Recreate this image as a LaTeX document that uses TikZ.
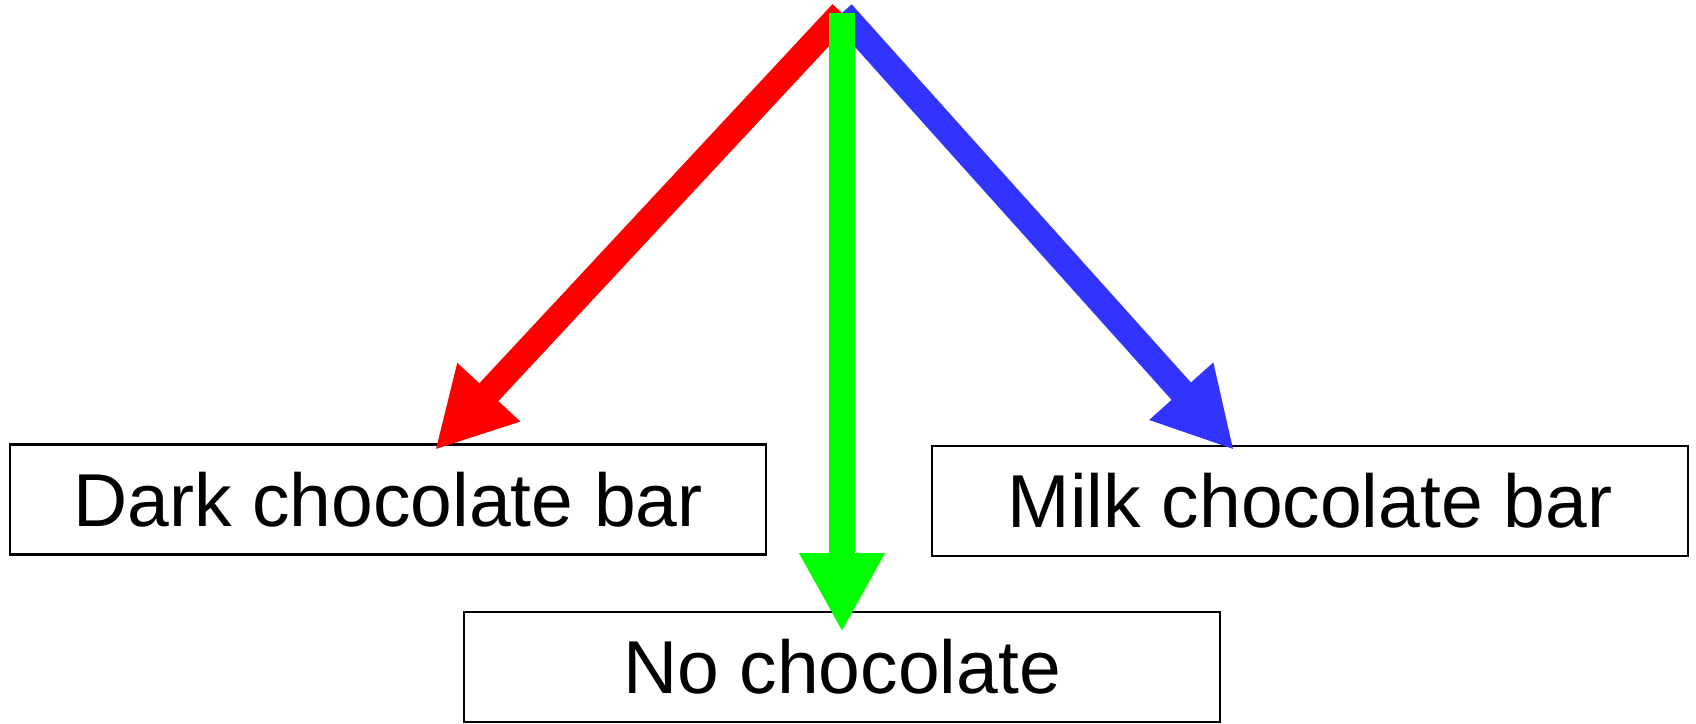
\documentclass[tikz,border=0pt]{standalone}
\usepackage{fontspec}
\setmainfont{Liberation Sans}
\usepackage{xcolor}
\usetikzlibrary{arrows.meta}
\definecolor{milkblue}{RGB}{51,51,255}

\begin{document}
\begin{tikzpicture}[
    x=1pt, y=-1pt,
    font=\fontsize{75}{90}\selectfont,
    bar_box/.style={draw, line width=2.2pt, minimum width=756pt, minimum height=110pt, inner sep=0pt, text centered},
    arrow/.style={line width=26pt, -{Triangle[length=79pt, width=80pt]}},
    dark_arrow/.style={arrow, draw=red},
    none_arrow/.style={arrow, draw=green},
    milk_arrow/.style={arrow, draw=milkblue}
]
\useasboundingbox (0,0) rectangle (1696,723);

\node (dark) [bar_box] at (388,499.5) {Dark chocolate bar};
\node (milk) [bar_box] at (1310,501) {Milk chocolate bar};
\node (none) [bar_box] at (842,667) {No chocolate};

\coordinate (top) at (842,13);
\coordinate (darktip) at (435,450);
\coordinate (milktip) at (1234,450);
\coordinate (nonetip) at (842,632);

\draw [dark_arrow] (top) -- (darktip);
\draw [milk_arrow] (top) -- (milktip);
\draw [none_arrow] (top) -- (nonetip);

\end{tikzpicture}
\end{document}
